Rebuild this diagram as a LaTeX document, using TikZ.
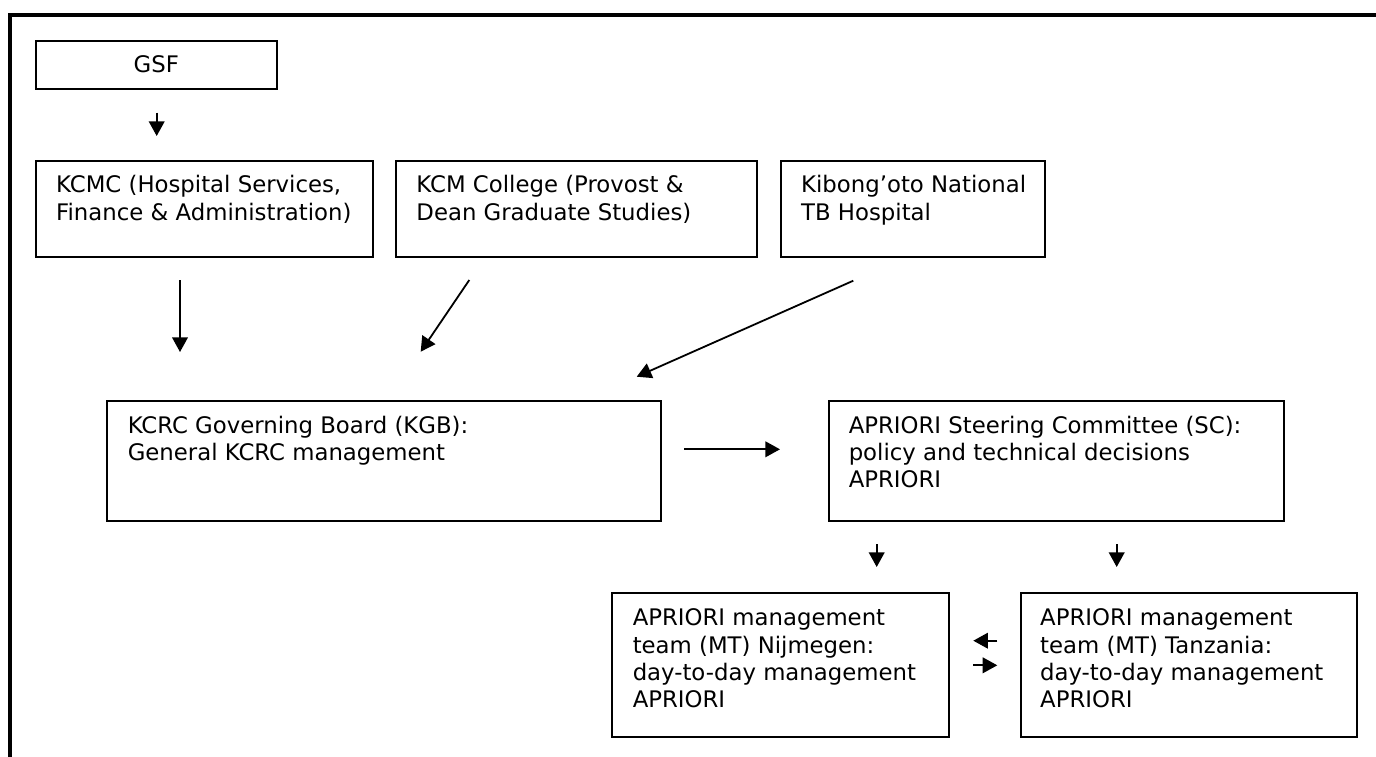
\documentclass[tikz,border=0pt]{standalone}
\usepackage{fontspec}
\setmainfont{DejaVu Sans}
\usetikzlibrary{arrows.meta,fit}
\newcommand{\boxlines}[1]{\begin{tabular}[t]{@{}l@{}}#1\end{tabular}}
\begin{document}
\begin{tikzpicture}[x=0.5pt,y=-0.5pt,
  boxnode/.style={draw=black,line width=0.95pt,inner sep=0pt,fill=none},
  txt/.style={inner sep=0pt,anchor=base west,font=\fontsize{11.4pt}{13.7pt}\selectfont},
  arr/.style={draw=black,line width=0.9pt,-{Triangle[length=7.3pt,width=7.8pt]}},
  frame/.style={draw=black,line width=2pt,line join=miter}]
\useasboundingbox (0,0) rectangle (1376,756);
% outer frame (only top and left edges are visible)
\coordinate (frTR) at (1380,14.7);
\coordinate (frTL) at (10.3,14.7);
\coordinate (frBL) at (10.3,760);
\draw[frame] (frTR) -- (frTL) -- (frBL);

% boxes
\node[boxnode,fit={(36,40.7) (276.7,88.7)}] (gsf) {};
\node[boxnode,fit={(35.7,160.7) (372.7,256.7)}] (kcmc) {};
\node[boxnode,fit={(396,160.7) (756.7,256.7)}] (kcmcoll) {};
\node[boxnode,fit={(780.7,160.7) (1045,256.7)}] (kib) {};
\node[boxnode,fit={(107.3,400.7) (660.7,520.7)}] (kgb) {};
\node[boxnode,fit={(828.7,400.7) (1284,520.7)}] (sc) {};
\node[boxnode,fit={(612.3,592.7) (949,736.7)}] (mtn) {};
\node[boxnode,fit={(1020.7,592.7) (1357.3,736.7)}] (mtt) {};

% texts
\node[txt,anchor=base] (gsft) at ([yshift=-16.6pt]gsf.north) {GSF};
\node[txt] (kcmct) at ([xshift=10.5pt,yshift=-16.6pt]kcmc.north west)
  {\boxlines{KCMC (Hospital Services,\\Finance \& Administration)}};
\node[txt] (kcmcollt) at ([xshift=10.5pt,yshift=-16.6pt]kcmcoll.north west)
  {\boxlines{KCM College (Provost \&\\Dean Graduate Studies)}};
\node[txt] (kibt) at ([xshift=10.5pt,yshift=-16.6pt]kib.north west)
  {\boxlines{Kibong’oto National\\TB Hospital}};
\node[txt] (kgbt) at ([xshift=10.5pt,yshift=-16.8pt]kgb.north west)
  {\boxlines{KCRC Governing Board (KGB):\\General KCRC management}};
\node[txt] (sct) at ([xshift=10.3pt,yshift=-16.7pt]sc.north west)
  {\boxlines{APRIORI Steering Committee (SC):\\policy and technical decisions\\APRIORI}};
\node[txt] (mtnt) at ([xshift=10.5pt,yshift=-17pt]mtn.north west)
  {\boxlines{APRIORI management\\team (MT) Nijmegen:\\day-to-day management\\APRIORI}};
\node[txt] (mttt) at ([xshift=10pt,yshift=-17pt]mtt.north west)
  {\boxlines{APRIORI management\\team (MT) Tanzania:\\day-to-day management\\APRIORI}};

% connector end points (arrows float between the boxes)
\coordinate (a1s) at (156.7,112.7); \coordinate (a1e) at (156.7,136);
\coordinate (a2s) at (180,280);     \coordinate (a2e) at (180,352);
\coordinate (a3s) at (469.3,280);   \coordinate (a3e) at (420.7,351.7);
\coordinate (a4s) at (853.3,280.7); \coordinate (a4e) at (636.7,376.7);
\coordinate (a5s) at (684,449.3);   \coordinate (a5e) at (780,449.3);
\coordinate (a6s) at (876.7,544);   \coordinate (a6e) at (876.7,567);
\coordinate (a7s) at (1116.7,544);  \coordinate (a7e) at (1116.7,567);
\coordinate (a8s) at (997.3,640.7); \coordinate (a8e) at (973.3,640.7);
\coordinate (a9s) at (973.3,665.3); \coordinate (a9e) at (997.3,665.3);

\draw[arr] (a1s) -- (a1e);
\draw[arr] (a2s) -- (a2e);
\draw[arr] (a3s) -- (a3e);
\draw[arr] (a4s) -- (a4e);
\draw[arr] (a5s) -- (a5e);
\draw[arr] (a6s) -- (a6e);
\draw[arr] (a7s) -- (a7e);
\draw[arr] (a8s) -- (a8e);
\draw[arr] (a9s) -- (a9e);
\end{tikzpicture}
\end{document}
